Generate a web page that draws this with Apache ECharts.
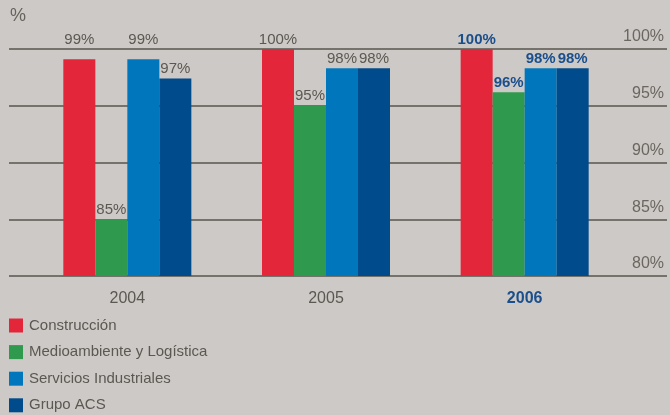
<!DOCTYPE html>
<html><head><meta charset="utf-8">
<script src="https://cdn.jsdelivr.net/npm/echarts@6/dist/echarts.min.js"></script>
<style>html,body{margin:0;padding:0;background:#cdc9c6}#c{width:670px;height:415px}</style>
</head><body><div id="c"></div>
<script>
const years = ['2004', '2005', '2006'];
const seriesNames = ['Construcción', 'Medioambiente y Logística', 'Servicios Industriales', 'Grupo ACS'];
const construccion = [99.1, 100, 100];
const medioambiente = [85, 95, 96.2];
const servicios = [99.1, 98.3, 98.3];
const grupoACS = [97.4, 98.3, 98.3];
const yTicks = [80, 85, 90, 95, 100];
const colors = ['#e3263a', '#2f9a4d', '#0077bd', '#004b8b'];

const GRAY = '#5b5751';
const BLUE = '#1a4f8c';
const F = 'Liberation Sans, Arial, sans-serif';
const allVals = [construccion, medioambiente, servicios, grupoACS];

function makeData(vals) {
  return vals.map((v, i) => {
    const hi = i === years.length - 1;
    const lab = { color: hi ? BLUE : GRAY, fontWeight: hi ? 'bold' : 'normal' };
    if (Math.round(v) === 99) lab.offset = [0, -10];
    return { value: v, label: lab };
  });
}

const chart = echarts.init(document.getElementById('c'));
chart.setOption({
  backgroundColor: '#cdc9c6',
  animation: false,
  title: { text: '%', left: 5, top: 2, textStyle: { color: '#67625c', fontSize: 18, fontWeight: 'normal', fontFamily: F } },
  legend: {
    orient: 'vertical', left: 4, top: 313, height: 110, itemWidth: 14, itemHeight: 14, itemGap: 11.6,
    icon: 'rect', data: seriesNames,
    textStyle: { color: GRAY, fontSize: 15, lineHeight: 14, fontFamily: F, padding: [0, 0, 0, 1] }
  },
  grid: [
    { left: 9, right: 3, top: 49, height: 227 },
    { left: 28, right: 46, top: 49, height: 227 }
  ],
  xAxis: [
    { gridIndex: 0, type: 'value', show: false },
    {
      gridIndex: 1, type: 'category',
      data: years.map((y, i) => i === years.length - 1 ? { value: y, textStyle: { color: BLUE, fontWeight: 'bold' } } : y),
      axisLine: { show: false }, axisTick: { show: false },
      axisLabel: { color: GRAY, fontSize: 16, fontFamily: F, margin: 15 }
    }
  ],
  yAxis: [
    {
      gridIndex: 0, type: 'value', position: 'right', min: yTicks[0], max: yTicks[yTicks.length - 1], interval: 5,
      axisLine: { show: false }, axisTick: { show: false },
      splitLine: { lineStyle: { color: '#57534d', width: 1.5 } },
      axisLabel: { inside: true, margin: 3, verticalAlign: 'bottom', padding: [0, 0, 4, 0], color: '#6b6660', fontSize: 16, fontFamily: F, formatter: v => v + '%' }
    },
    { gridIndex: 1, type: 'value', min: 80, max: 100, show: false }
  ],
  series: seriesNames.map((n, k) => ({
    name: n, type: 'bar', xAxisIndex: 1, yAxisIndex: 1,
    barWidth: 32, barGap: '0%',
    itemStyle: { color: colors[k] },
    label: { show: true, position: 'top', distance: 2, fontSize: 15, fontFamily: F, formatter: p => Math.round(p.value) + '%' },
    data: makeData(allVals[k])
  }))
});
</script></body></html>
